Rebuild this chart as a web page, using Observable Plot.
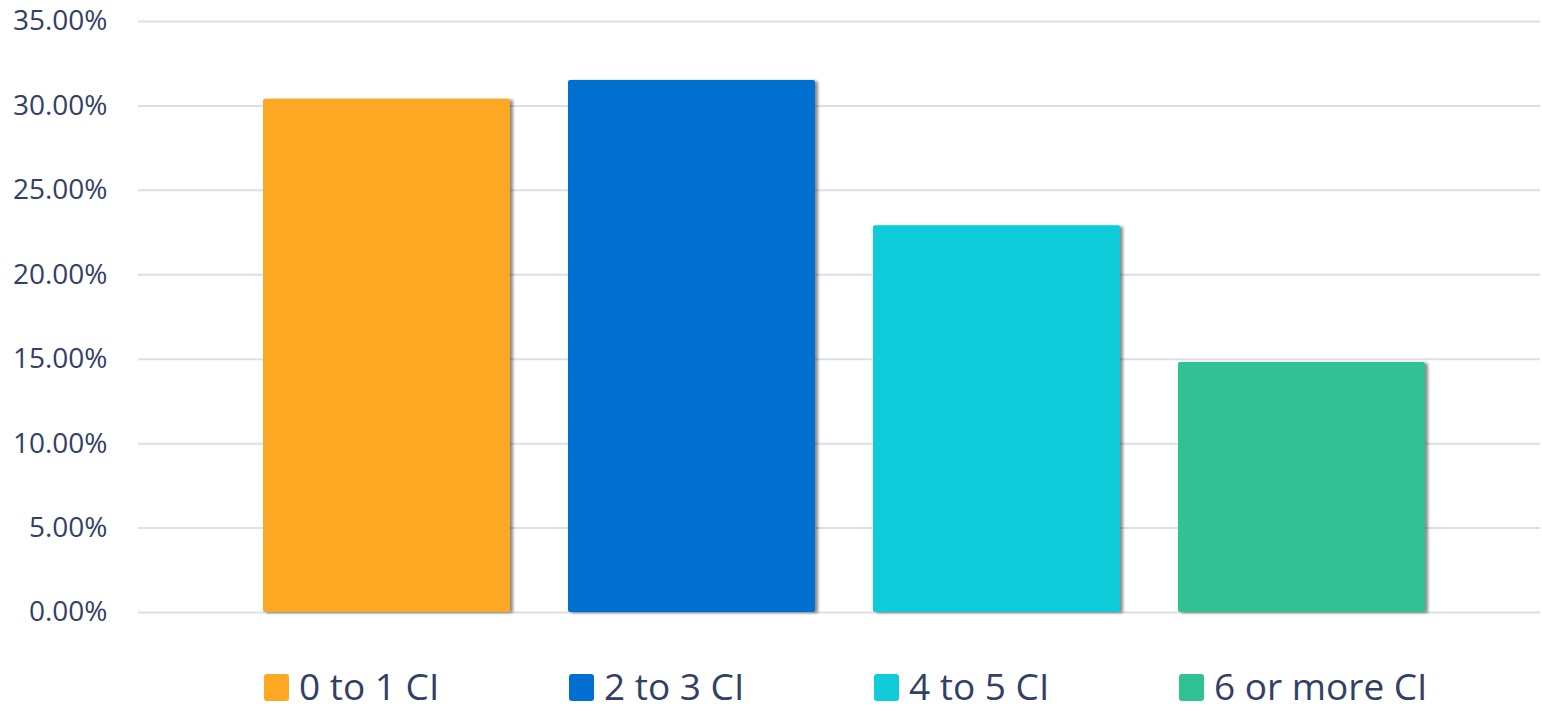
<!DOCTYPE html>
<html>
<head>
<meta charset="utf-8">
<script src="https://cdn.jsdelivr.net/npm/d3@7"></script>
<script src="https://cdn.jsdelivr.net/npm/@observablehq/plot@0.6"></script>
<style>
  html, body { margin: 0; padding: 0; background: #fff; }
  #wrap { position: relative; width: 1542px; height: 711px; }
  #legend { position: absolute; left: 0; top: 660px; width: 1542px; }
  .item { position: absolute; top: 0; display: flex; align-items: center; font-family: "Open Sans", sans-serif; font-size: 37px; line-height: normal; color: #333f66; white-space: nowrap; }
  .sw { width: 25px; height: 27px; border-radius: 3px; margin-right: 10px; margin-top: 3px; }
</style>
</head>
<body>
<div id="wrap"><div id="chart"></div><div id="legend"></div></div>
<script>
const categories = ["0 to 1 CI", "2 to 3 CI", "4 to 5 CI", "6 or more CI"];
const values = [30.4, 31.5, 22.9, 14.8];
const colors = ["#fda823", "#006fd0", "#10cbd8", "#30c192"];
const yTicks = [0, 5, 10, 15, 20, 25, 30, 35];

const data = categories.map((c, i) => ({category: c, value: values[i]}));

const chart = Plot.plot({
  width: 1542,
  height: 640,
  marginLeft: 138,
  marginRight: 2,
  marginTop: 21,
  marginBottom: 28,
  style: {fontFamily: "'Open Sans', sans-serif", background: "#fff", overflow: "visible"},
  x: {domain: categories, paddingInner: 0.19, paddingOuter: 0.386, align: 0.52, axis: null},
  y: {domain: [0, 35], ticks: yTicks, label: null},
  color: {domain: categories, range: colors},
  marks: [
    Plot.ruleY(yTicks, {stroke: "#dcdfea", strokeWidth: 2}),
    Plot.axisY({ticks: yTicks, tickSize: 0, tickPadding: 31, tickFormat: d => d.toFixed(2) + "%", fontSize: 28, fill: "#333f66", label: null}),
    Plot.barY(data, {x: "category", y: "value", fill: "category", rx: 2})
  ]
});

// drop shadow like the reference
const svg = d3.select(chart);
const defs = svg.insert("defs", ":first-child");
const f = defs.append("filter").attr("id", "shadow").attr("x", "-5%").attr("y", "-5%").attr("width", "115%").attr("height", "115%");
f.append("feDropShadow").attr("dx", 3).attr("dy", 1).attr("stdDeviation", 1.5).attr("flood-color", "#000").attr("flood-opacity", 0.45);
svg.selectAll("g[aria-label='bar'] rect").attr("filter", "url(#shadow)");
svg.selectAll("g[aria-label='y-axis tick label'] text").attr("font-size", 28);

document.getElementById("chart").appendChild(chart);

const xs = chart.scale("x");
const legend = d3.select("#legend");
categories.forEach((c, i) => {
  const it = legend.append("div").attr("class", "item").style("left", (xs.apply(c) + 1) + "px");
  it.append("div").attr("class", "sw").style("background", colors[i]);
  it.append("span").text(c);
});
</script>
</body>
</html>
